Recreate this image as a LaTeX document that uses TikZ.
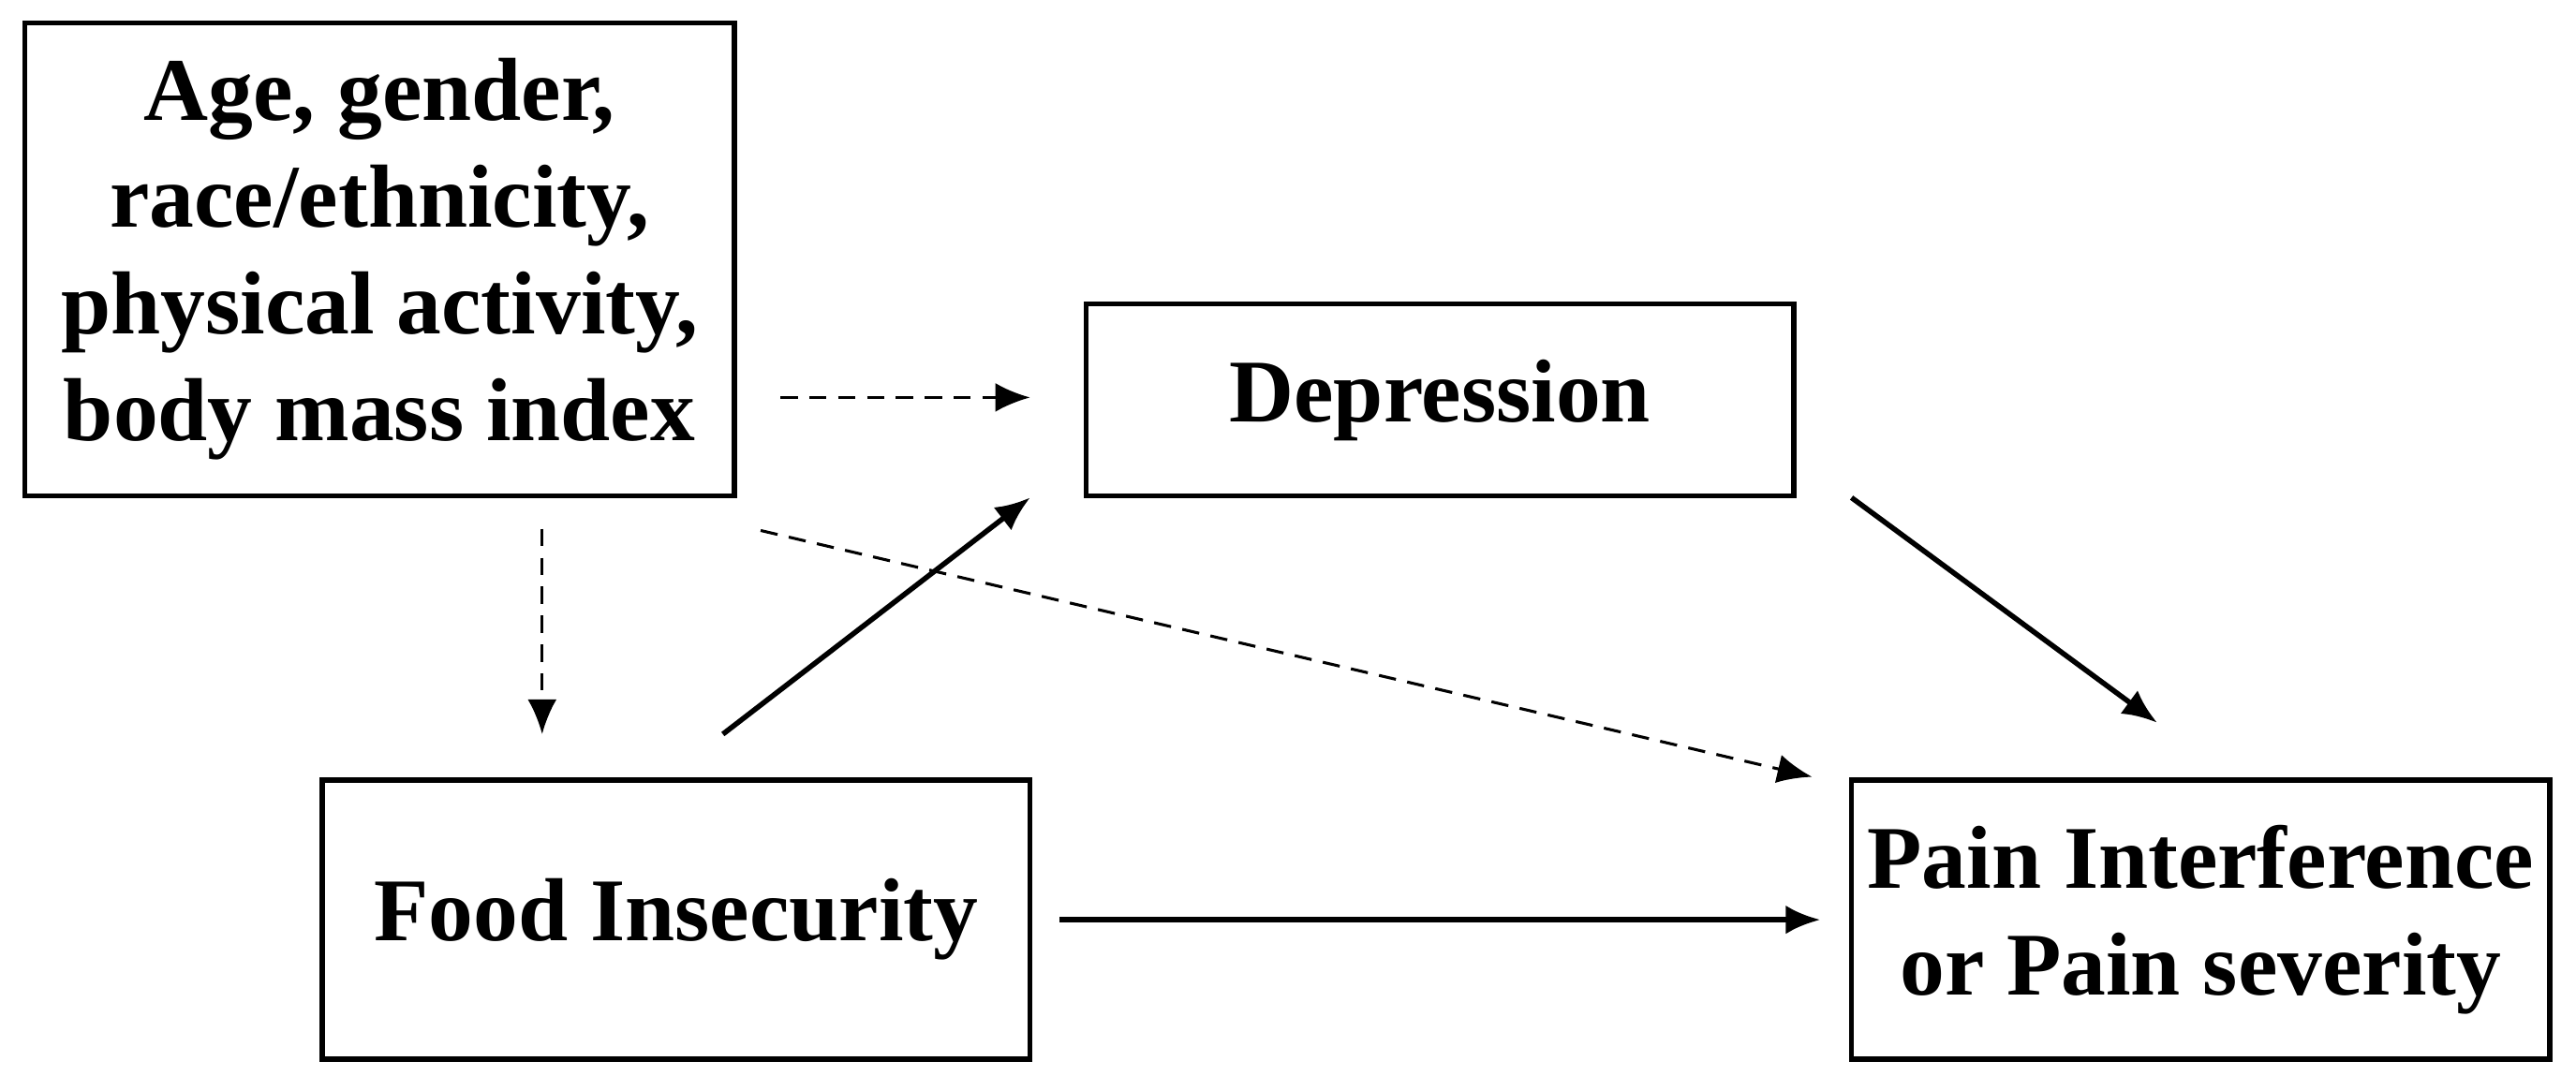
\documentclass[tikz,border=0pt]{standalone}
\usepackage{fontspec}
\setmainfont{Liberation Serif}
\usetikzlibrary{arrows.meta}
\begin{document}
\begin{tikzpicture}[
  box/.style={draw, line width=0.9pt, align=center, inner sep=0pt, font=\fontsize{15.5}{18.5}\selectfont\bfseries},
  arr/.style={-{Latex[length=6pt,width=5pt]}, line width=0.9pt},
  darr/.style={-{Latex[length=6pt,width=5pt]}, line width=0.5pt, dash pattern=on 3pt off 2pt}]
\useasboundingbox (0,0) rectangle (15.68,6.55);
\node[box, minimum width=4.32cm, minimum height=2.88cm] (cov) at (2.31,4.97) {Age, gender,\\race/ethnicity,\\physical activity,\\body mass index};
\node[box, minimum width=4.31cm, minimum height=1.17cm] (dep) at (8.765,4.115) {Depression};
\node[box, minimum width=4.31cm, minimum height=1.70cm] (food) at (4.115,0.95) {Food Insecurity};
\node[box, minimum width=4.25cm, minimum height=1.70cm] (pain) at (13.395,0.95) {Pain Interference\\or Pain severity};
\coordinate (a1) at (4.75,4.13); \coordinate (a2) at (6.27,4.13);
\coordinate (b1) at (3.30,3.33); \coordinate (b2) at (3.30,2.08);
\coordinate (c1) at (4.63,3.32); \coordinate (c2) at (11.03,1.82);
\coordinate (d1) at (4.40,2.08); \coordinate (d2) at (6.27,3.52);
\coordinate (e1) at (11.27,3.52); \coordinate (e2) at (13.13,2.15);
\coordinate (f1) at (6.45,0.95); \coordinate (f2) at (11.08,0.95);
\draw[darr] (a1) -- (a2);
\draw[darr] (b1) -- (b2);
\draw[darr] (c1) -- (c2);
\draw[arr] (d1) -- (d2);
\draw[arr] (e1) -- (e2);
\draw[arr] (f1) -- (f2);
\end{tikzpicture}
\end{document}
